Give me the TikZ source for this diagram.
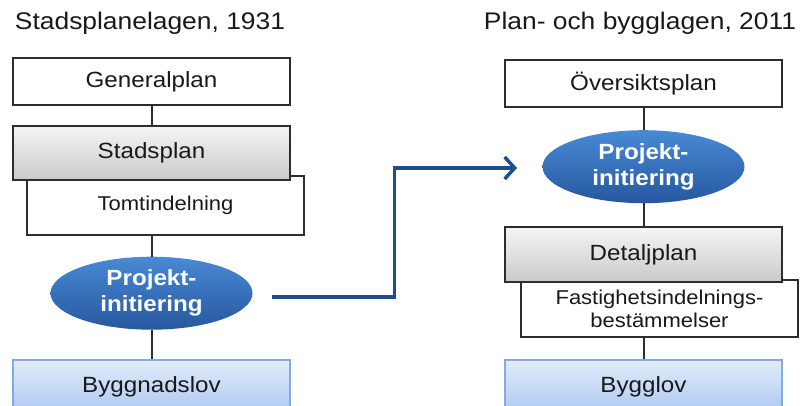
\documentclass[tikz,border=0pt]{standalone}
\usepackage{fontspec}
\setmainfont{Liberation Sans}[FakeStretch=1.1]
\usetikzlibrary{arrows.meta,positioning,shapes.geometric,calc,backgrounds}
\definecolor{linegray}{RGB}{45,45,45}
\definecolor{arrowblue}{RGB}{31,78,140}
\definecolor{ellipsetop}{RGB}{72,138,212}
\definecolor{ellipsebot}{RGB}{38,88,158}
\definecolor{bluetop}{RGB}{226,236,252}
\definecolor{bluebot}{RGB}{172,199,240}
\definecolor{blueedge}{RGB}{135,170,222}
\definecolor{txtcol}{RGB}{25,25,25}

\begin{document}
\begin{tikzpicture}[
  x=1pt, y=-1pt,
  lawtitle/.style={font=\fontsize{24}{28}\selectfont, text=txtcol},
  planbox/.style={rectangle, draw=linegray, line width=2pt, fill=white,
                  minimum width=277pt, minimum height=47pt, inner sep=0pt,
                  font=\fontsize{22}{26}\selectfont, text=txtcol},
  graybox/.style={planbox, top color=gray!8, bottom color=gray!42,
                  minimum height=54pt},
  subbox/.style={planbox, minimum height=58pt, align=center,
                 font=\fontsize{20}{23}\selectfont},
  permitbox/.style={planbox, draw=blueedge, line width=1.5pt,
                    top color=bluetop, bottom color=bluebot, minimum height=54pt},
  initnode/.style={ellipse, draw=none, top color=ellipsetop, bottom color=ellipsebot,
                   minimum width=202pt, minimum height=73pt, inner sep=0pt,
                   align=center, text=white,
                   font=\bfseries\fontsize{22}{26}\selectfont},
  link/.style={draw=linegray, line width=2pt},
  flowarrow/.style={draw=arrowblue, line width=3.5pt,
                    -{Straight Barb[length=10pt, width=22pt, line width=3.5pt]}}
]
\useasboundingbox (0,0) rectangle (804,405);
\clip (0,0) rectangle (804,405);

% Stadsplanelagen 1931
\node[lawtitle] (oldlaw) at (150,23) {Stadsplanelagen, 1931};
\node[planbox] (genplan) at (151.5,81.5) {Generalplan};
\node[graybox, below=19pt of genplan] (stadsplan) {Stadsplan};
\begin{scope}[on background layer]
  \node[subbox, below=-6pt of stadsplan, xshift=14pt, minimum height=59pt] (tomt) {Tomtindelning};
\end{scope}
\node[initnode, below=20.5pt of tomt, xshift=-14pt] (proj1) {Projekt-\\initiering};
\node[permitbox, below=29.5pt of proj1] (byggnadslov) {Byggnadslov};

% Plan- och bygglagen 2011
\node[lawtitle] (newlaw) at (640,23) {Plan- och bygglagen, 2011};
\node[planbox] (overplan) at (643.5,83.5) {Översiktsplan};
\node[initnode, below=22pt of overplan] (proj2) {Projekt-\\initiering};
\node[graybox, below=23pt of proj2, minimum height=55pt] (detalj) {Detaljplan};
\begin{scope}[on background layer]
  \node[subbox, below=-4pt of detalj, xshift=16pt, minimum height=57pt] (fast)
    {Fastighetsindelnings-\\bestämmelser};
\end{scope}
\node[permitbox, below=21pt of fast, xshift=-16pt] (bygglov) {Bygglov};

% Connectors
\draw[link] (genplan) -- (stadsplan);
\draw[link] (tomt.south -| proj1.north) -- (proj1);
\draw[link] (proj1) -- (byggnadslov);
\draw[link] (overplan) -- (proj2);
\draw[link] (proj2) -- (detalj);
\draw[link] (fast.south -| bygglov.north) -- (bygglov);

% Arrow between the laws
\coordinate (arrowstart) at (272,297);
\coordinate (arrowend) at (517,168);
\draw[flowarrow] (arrowstart) -| ($(arrowstart)!0.5!(arrowend)$) |- (arrowend);

\end{tikzpicture}
\end{document}
